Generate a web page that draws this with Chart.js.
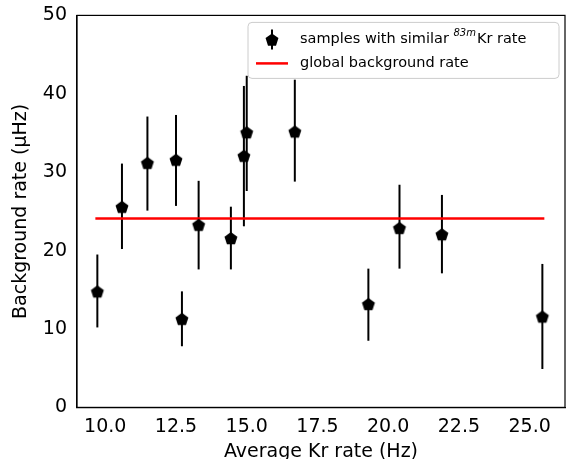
<!DOCTYPE html>
<html><head><meta charset="utf-8">
<script src="https://cdn.jsdelivr.net/npm/chart.js@4"></script>
<style>body{margin:0;background:#fff}#w{width:573px;height:459px}</style>
</head><body><div id="w"><canvas id="c"></canvas></div>
<script>
const krRate = [9.72, 10.59, 11.49, 12.5, 12.71, 13.3, 14.44, 14.9, 15.0, 16.7, 19.3, 20.4, 21.9, 25.45];
const bgRate = [14.8, 25.6, 31.2, 31.6, 11.3, 23.3, 21.6, 32.1, 35.1, 35.2, 13.2, 22.9, 22.1, 11.6];
const errHi = [19.5, 31.1, 37.1, 37.3, 14.8, 28.9, 25.6, 41.0, 42.3, 41.8, 17.7, 28.4, 27.1, 18.3];
const errLo = [10.2, 20.2, 25.1, 25.7, 7.8, 17.6, 17.6, 23.1, 27.6, 28.8, 8.5, 17.7, 17.1, 4.9];
const globalRate = 24.1;
const globalRange = [9.65, 25.52];
const seriesLabels = ['samples with similar ', 'global background rate'];

function pentagonPath(g, cx, cy, r) {
  g.beginPath();
  for (let i = 0; i < 5; i++) {
    const a = -Math.PI / 2 + i * 2 * Math.PI / 5;
    g.lineTo(cx + r * Math.cos(a), cy + r * Math.sin(a) + 0.8);
  }
  g.closePath();
}
const marker = document.createElement('canvas');
marker.width = 16; marker.height = 16;
(function () { const g = marker.getContext('2d'); g.fillStyle = '#000'; pentagonPath(g, 8, 8, 6.8); g.fill(); })();

const extras = {
  id: 'extras',
  beforeDatasetsDraw(chart) {
    const x = chart.scales.x, y = chart.scales.y, ctx = chart.ctx;
    ctx.save(); ctx.strokeStyle = '#000'; ctx.lineWidth = 2;
    for (let i = 0; i < krRate.length; i++) {
      const px = x.getPixelForValue(krRate[i]);
      ctx.beginPath();
      ctx.moveTo(px, y.getPixelForValue(errHi[i]));
      ctx.lineTo(px, y.getPixelForValue(errLo[i]));
      ctx.stroke();
    }
    ctx.restore();
  },
  afterDraw(chart) {
    const a = chart.chartArea, ctx = chart.ctx;
    ctx.save();
    ctx.strokeStyle = '#000'; ctx.lineWidth = 1.2;
    ctx.strokeRect(a.left, a.top, a.right - a.left, a.bottom - a.top);
    // legend
    const lx = a.right - 317, ly = a.top + 7, lw = 311, lh = 56;
    ctx.fillStyle = 'rgba(255,255,255,0.85)';
    ctx.strokeStyle = '#ccc'; ctx.lineWidth = 1;
    ctx.beginPath(); ctx.roundRect(lx, ly, lw, lh, 4); ctx.fill(); ctx.stroke();
    const y1 = ly + 17, y2 = ly + 41, mx = lx + 24;
    ctx.strokeStyle = '#000'; ctx.lineWidth = 2;
    ctx.beginPath(); ctx.moveTo(mx, y1 - 10); ctx.lineTo(mx, y1 + 10); ctx.stroke();
    ctx.fillStyle = '#000'; pentagonPath(ctx, mx, y1, 6.8); ctx.fill();
    ctx.strokeStyle = '#ff0000'; ctx.lineWidth = 2.5;
    ctx.beginPath(); ctx.moveTo(lx + 8, y2); ctx.lineTo(lx + 40, y2); ctx.stroke();
    ctx.fillStyle = '#000'; ctx.textBaseline = 'middle';
    ctx.font = '14.5px "DejaVu Sans"';
    const tx = lx + 52;
    ctx.fillText(seriesLabels[0], tx, y1);
    let w = ctx.measureText(seriesLabels[0]).width;
    ctx.font = 'italic 10px "DejaVu Sans"';
    ctx.fillText('83', tx + w, y1 - 6);
    let w2 = ctx.measureText('83').width;
    ctx.fillText('m', tx + w + w2, y1 - 6);
    w2 += ctx.measureText('m').width;
    ctx.font = '14.5px "DejaVu Sans"';
    ctx.fillText('Kr rate', tx + w + w2 + 1, y1);
    ctx.fillText(seriesLabels[1], tx, y2);
    ctx.restore();
  }
};

const font = {family: 'DejaVu Sans', size: 19};
new Chart(document.getElementById('c'), {
  type: 'scatter',
  data: {
    datasets: [
      {label: seriesLabels[0],
       data: krRate.map((v, i) => ({x: v, y: bgRate[i]})),
       pointStyle: marker, pointRadius: 7, order: 1},
      {label: seriesLabels[1], type: 'line',
       data: globalRange.map(v => ({x: v, y: globalRate})),
       borderColor: '#ff0000', borderWidth: 2.5, pointRadius: 0, order: 2}
    ]
  },
  options: {
    animation: false, responsive: true, maintainAspectRatio: false,
    layout: {padding: {top: 8, right: -3, left: 4, bottom: -4}},
    scales: {
      x: {min: 9.0, max: 26.25, border: {color: '#000', width: 1.2},
          grid: {display: false, drawTicks: true, tickColor: '#000', tickLength: 6},
          ticks: {color: '#000', font, padding: 2},
          afterBuildTicks: a => { a.ticks = [10, 12.5, 15, 17.5, 20, 22.5, 25].map(v => ({value: v})); },
          afterTickToLabelConversion: a => { a.ticks.forEach(t => t.label = t.value.toFixed(1)); },
          title: {display: true, text: 'Average Kr rate (Hz)', color: '#000', font, padding: 0}},
      y: {min: 0, max: 50, border: {color: '#000', width: 1.2},
          grid: {display: false, drawTicks: true, tickColor: '#000', tickLength: 6},
          ticks: {stepSize: 10, color: '#000', font, padding: 4},
          title: {display: true, text: 'Background rate (\u03bcHz)', color: '#000', font, padding: 6}}
    },
    plugins: {legend: {display: false}, tooltip: {enabled: false}}
  },
  plugins: [extras]
});
</script></body></html>
